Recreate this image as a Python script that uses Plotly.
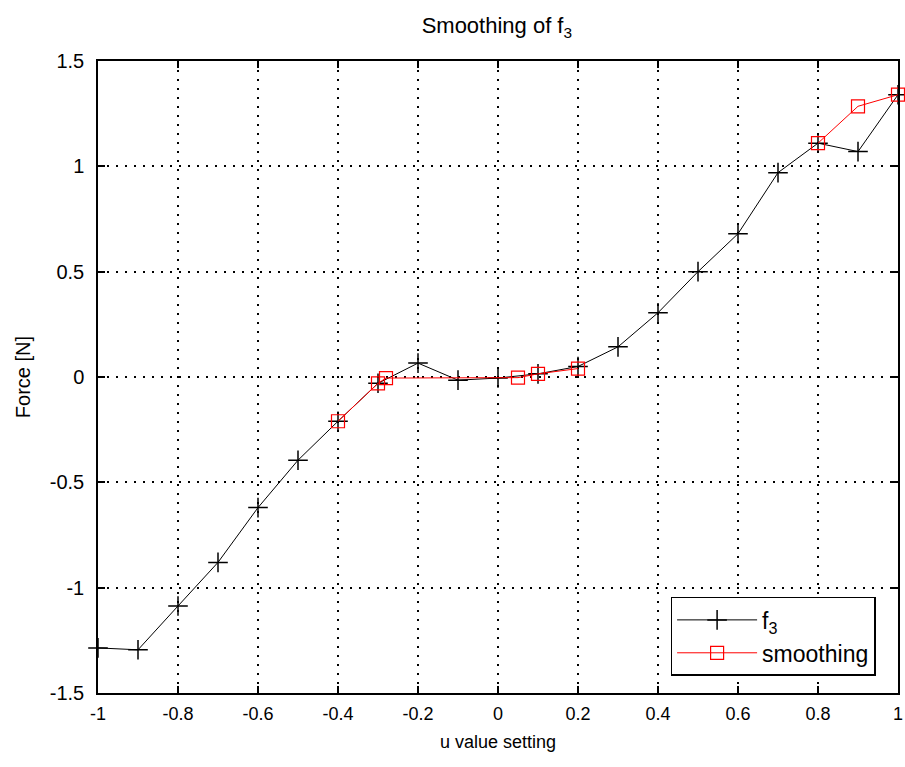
import plotly.graph_objects as go

u_f3 = [-1.0, -0.9, -0.8, -0.7, -0.6, -0.5, -0.4, -0.3, -0.2, -0.1, 0.0, 0.1, 0.2, 0.3, 0.4, 0.5, 0.6, 0.7, 0.8, 0.9, 1.0]
f3 = [-1.286, -1.295, -1.087, -0.88, -0.62, -0.395, -0.21, -0.03, 0.066, -0.015, -0.005, 0.015, 0.05, 0.143, 0.305, 0.50, 0.68, 0.97, 1.11, 1.07, 1.34]

# None marks the gap in the smoothing curve between 0.2 and 0.8
u_smooth = [-0.4, -0.3, -0.28, 0.05, 0.1, 0.2, None, 0.8, 0.9, 1.0]
smooth = [-0.21, -0.03, -0.005, -0.003, 0.015, 0.04, None, 1.11, 1.285, 1.34]

x_ticks = [-1, -0.8, -0.6, -0.4, -0.2, 0, 0.2, 0.4, 0.6, 0.8, 1]
y_ticks = [-1.5, -1, -0.5, 0, 0.5, 1, 1.5]

FONT = "Liberation Sans"

fig = go.Figure()
fig.add_trace(go.Scatter(
    x=u_f3, y=f3, mode="lines+markers", name="f<sub>3</sub>",
    line=dict(color="black", width=1),
    marker=dict(symbol="cross-thin", size=14, line=dict(color="black", width=1.5), color="black"),
    cliponaxis=False,
))
fig.add_trace(go.Scatter(
    x=u_smooth, y=smooth, mode="lines+markers", name="smoothing",
    line=dict(color="red", width=1), connectgaps=False,
    marker=dict(symbol="square-open", size=13, line=dict(color="red", width=1.2), color="red"),
    cliponaxis=False,
))

axis_common = dict(
    showgrid=True, gridcolor="black", griddash="1.5px,7.5px", gridwidth=1.5,
    zeroline=False, showline=True, linecolor="black", linewidth=1.5, mirror="ticks",
    ticks="inside", ticklen=7, tickcolor="black", tickwidth=1.5,
    ticklabeloverflow="allow", automargin=False,
)

fig.update_layout(
    width=905, height=767,
    margin=dict(l=98, r=7, t=61, b=74),
    paper_bgcolor="white", plot_bgcolor="white",
    font=dict(family=FONT, size=18, color="black"),
    title=dict(text="Smoothing of f<sub>3</sub>", x=0.549, xanchor="center", y=0.967, yanchor="middle",
               font=dict(family=FONT, size=22, color="black")),
    xaxis=dict(range=[-1, 1], tickvals=x_ticks, ticktext=[f"{v:g}" for v in x_ticks],
               tickfont=dict(family=FONT, size=18, color="black"), ticklabelstandoff=4,
               title=dict(text="u value setting", standoff=12, font=dict(family=FONT, size=18, color="black")),
               **axis_common),
    yaxis=dict(range=[-1.5, 1.5], tickvals=y_ticks, ticktext=[f"{v:g}" for v in y_ticks],
               tickfont=dict(family=FONT, size=20, color="black"), ticklabelstandoff=8,
               title=dict(text="Force [N]", standoff=14, font=dict(family=FONT, size=20, color="black")),
               **axis_common),
    legend=dict(x=0.972, y=0.027, xanchor="right", yanchor="bottom",
                bgcolor="white", bordercolor="black", borderwidth=1.5,
                font=dict(family=FONT, size=23, color="black"), itemwidth=80, tracegroupgap=8),
    showlegend=True,
)

fig.write_html("out.html")
